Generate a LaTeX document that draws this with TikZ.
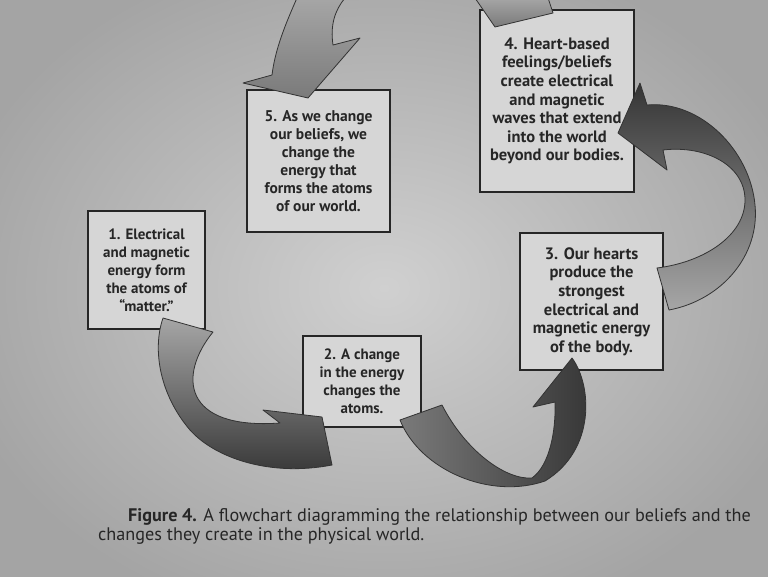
\documentclass[tikz,border=0pt]{standalone}
\usepackage{fontspec}
\setmainfont{PT Sans}
\usepackage{xcolor}
\usepackage{tikz}
\usetikzlibrary{calc,positioning}
\definecolor{paperlight}{HTML}{D0D0D0}
\definecolor{paperdark}{HTML}{A4A4A4}
\definecolor{boxfill}{HTML}{D6D6D6}
\definecolor{inkgray}{HTML}{262626}
\definecolor{ribbonlight}{HTML}{A6A6A6}
\definecolor{ribbonmid}{HTML}{7A7A7A}
\definecolor{ribbondark}{HTML}{353535}

\begin{document}
\begin{tikzpicture}[x=1pt,y=-1pt]
\tikzset{box/.style={draw=inkgray,line width=1.1pt,fill=boxfill,align=center,text=inkgray,inner sep=0pt,font=\bfseries\fontsize{15}{18}\selectfont}}
\tikzset{bigbox/.style={box,font=\bfseries\fontsize{16.5}{18.6}\selectfont}}
\tikzset{ribbon/.style={draw=black!80,line width=0.8pt,line join=round}}
\useasboundingbox (0,0) rectangle (768,576);
\shade[inner color=paperlight,outer color=paperdark] (-60,-60) rectangle (828,636);
% the five statements
\node[box,minimum width=117,minimum height=118] (energy) at (146.5,270) {1. Electrical\\and magnetic\\energy form\\the atoms of\\``matter.''};
\node[box,minimum width=118,minimum height=91] (change) at (362,381.5) {2. A change\\in the energy\\changes the\\atoms.};
\node[bigbox,minimum width=143,minimum height=137] (hearts) at (591.5,301.5) {3. Our hearts\\produce the\\strongest\\electrical and\\magnetic energy\\of the body.};
\node[bigbox,minimum width=154,minimum height=182] (waves) at (557,101) {4. Heart-based\\feelings/beliefs\\create electrical\\and magnetic\\waves that extend\\into the world\\beyond our bodies.};
\node[box,font=\bfseries\fontsize{15.5}{18}\selectfont,minimum width=143,minimum height=142] (beliefs) at (318.5,161) {5. As we change\\our beliefs, we\\change the\\energy that\\forms the atoms\\of our world.};
% ribbon arrows
\begin{scope}
\clip (0,0) rectangle (768,576);
% 1 -> 2
\shade[ribbon,top color=ribbonlight,bottom color=ribbondark] (163,318) -- (213,332)
  .. controls (178,375) and (182,430) .. (280,423) -- (263,410) -- (322,417) -- (332,465)
  .. controls (270,477) and (215,458) .. (190,430) .. controls (160,395) and (152,350) .. (163,318) -- cycle;
% 2 -> 3
\shade[ribbon,left color=ribbonmid,right color=ribbondark] (400,420) -- (442,405)
  .. controls (465,450) and (505,480) .. (532,478) .. controls (550,465) and (556,430) .. (555,402)
  -- (533,407) -- (572,358) .. controls (592,385) and (596,450) .. (545,481)
  .. controls (490,500) and (420,470) .. (400,420) -- cycle;
% 3 -> 4
\shade[ribbon,top color=ribbondark,bottom color=ribbonlight] (657,268) -- (669,310)
  .. controls (722,300) and (760,255) .. (755,205) .. controls (750,150) and (700,100) .. (647,105)
  -- (640,83) -- (618,133) -- (667,170) -- (663,150)
  .. controls (705,145) and (745,165) .. (745,200) .. controls (745,235) and (705,262) .. (657,268) -- cycle;
% 4 -> 5, running over the top edge
\shade[ribbon,top color=ribbonlight,bottom color=ribbonmid] (475,-2) -- (495,27) -- (553,13) -- (548,-2) -- cycle;
\shade[ribbon,top color=ribbonlight,bottom color=ribbonmid] (297,-2) .. controls (285,25) and (275,50) .. (272,75)
  -- (243,83) -- (308,98) -- (360,38) -- (333,45) .. controls (330,25) and (335,10) .. (345,-2) -- cycle;
\end{scope}
\node[anchor=north west,align=left,text=inkgray,inner sep=0pt,font=\fontsize{18.2}{19.5}\selectfont] (caption) at (98,508) {\hspace*{30pt}\textbf{Figure 4.} A flowchart diagramming the relationship between our beliefs and the\\changes they create in the physical world.};
\end{tikzpicture}
\end{document}
